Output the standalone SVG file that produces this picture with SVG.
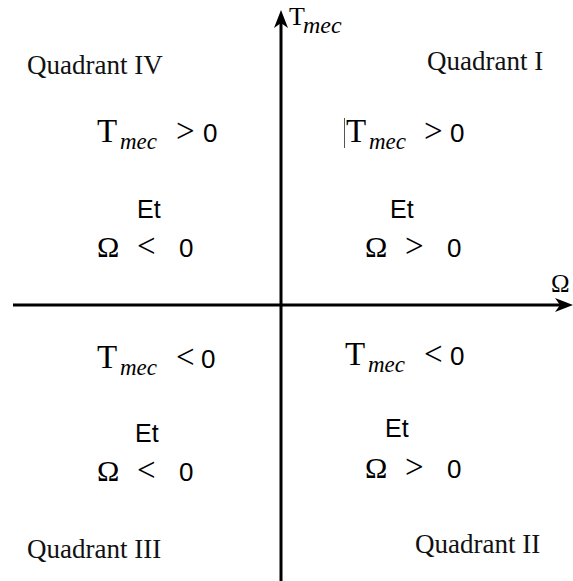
<svg xmlns="http://www.w3.org/2000/svg" width="573" height="581" viewBox="0 0 573 581">
<style>
.bg{fill:#ffffff}
.ax{stroke:#000;stroke-width:3;fill:none}
.T{font-family:"Liberation Serif",serif;font-size:33px;fill:#000}
.sub{font-family:"Liberation Serif",serif;font-style:italic;font-size:23px;fill:#000}
.rel{font-family:"Liberation Serif",serif;font-size:33px;fill:#000}
.num{font-family:"Liberation Sans",sans-serif;font-size:26px;fill:#000}
.et{font-family:"Liberation Sans",sans-serif;font-size:25px;fill:#000}
.om{font-family:"Liberation Serif",serif;font-size:30px;fill:#000}
.quad{font-family:"Liberation Serif",serif;font-size:27px;fill:#111}
</style>
<defs>
<marker id="arr" markerUnits="userSpaceOnUse" viewBox="-24 -8 26 16" markerWidth="26" markerHeight="16" refX="-6" refY="0" orient="auto">
<path d="M0,0 L-18,-7 L-13,0 L-18,7 Z" fill="#000"/>
</marker>
</defs>
<rect class="bg" x="0" y="0" width="573" height="581"/>
<g id="axes">
<line class="ax" x1="13" y1="305" x2="567" y2="305" marker-end="url(#arr)"/>
<line class="ax" x1="281" y1="581" x2="281" y2="16" marker-end="url(#arr)"/>
<text class="T" x="289" y="25" style="font-size:26px">T</text>
<text class="sub" x="303" y="33" style="font-size:24px">mec</text>
<text class="om" x="551" y="292" style="font-size:25px">Ω</text>
</g>
<g id="quadrant-iv">
<text class="quad" x="27" y="74">Quadrant IV</text>
<text class="T" x="97" y="142">T</text><text class="sub" x="120" y="149">mec</text>
<text class="rel" x="176" y="142">&gt;</text><text class="num" x="203" y="142">0</text>
<text class="et" x="137" y="218">Et</text>
<text class="om" x="97" y="257">Ω</text><text class="rel" x="137" y="257">&lt;</text><text class="num" x="179" y="257">0</text>
</g>
<g id="quadrant-i">
<text class="quad" x="427" y="70">Quadrant I</text>
<line x1="344.5" y1="118" x2="344.5" y2="148" stroke="#555" stroke-width="1"/>
<text class="T" x="346" y="142">T</text><text class="sub" x="369" y="149">mec</text>
<text class="rel" x="424" y="142">&gt;</text><text class="num" x="450" y="142">0</text>
<text class="et" x="390" y="218">Et</text>
<text class="om" x="365" y="257">Ω</text><text class="rel" x="405" y="257">&gt;</text><text class="num" x="447" y="257">0</text>
</g>
<g id="quadrant-iii">
<text class="quad" x="27" y="558">Quadrant III</text>
<text class="T" x="97" y="368">T</text><text class="sub" x="120" y="375">mec</text>
<text class="rel" x="176" y="368">&lt;</text><text class="num" x="201" y="368">0</text>
<text class="et" x="135" y="442">Et</text>
<text class="om" x="97" y="481">Ω</text><text class="rel" x="137" y="481">&lt;</text><text class="num" x="179" y="481">0</text>
</g>
<g id="quadrant-ii">
<text class="quad" x="415" y="553">Quadrant II</text>
<text class="T" x="345" y="365">T</text><text class="sub" x="368" y="372">mec</text>
<text class="rel" x="424" y="365">&lt;</text><text class="num" x="450" y="365">0</text>
<text class="et" x="385" y="437">Et</text>
<text class="om" x="365" y="478">Ω</text><text class="rel" x="405" y="478">&gt;</text><text class="num" x="447" y="478">0</text>
</g>
</svg>
